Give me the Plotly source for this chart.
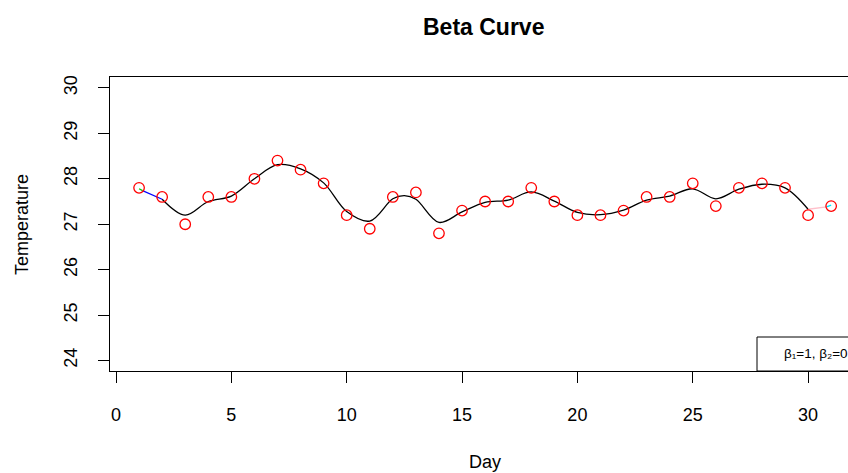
import plotly.graph_objects as go

# Observed data
days = list(range(1, 32))
temps = [27.8, 27.6, 27.0, 27.6, 27.6, 28.0, 28.4, 28.2, 27.9, 27.2,
         26.9, 27.6, 27.7, 26.8, 27.3, 27.5, 27.5, 27.8, 27.5, 27.2,
         27.2, 27.3, 27.6, 27.6, 27.9, 27.4, 27.8, 27.9, 27.8, 27.2, 27.4]

# Fitted curve
curve_days = [2, 3, 4, 5, 6, 7, 8, 9, 10, 11, 12, 12.5, 13, 14, 15, 16, 17,
              18, 19, 20, 21, 22, 23, 24, 25, 26, 27, 28, 29, 30]
curve_vals = [27.55, 27.2, 27.5, 27.62, 28.0, 28.31, 28.22, 27.91, 27.28, 27.07,
              27.56, 27.63, 27.55, 27.04, 27.27, 27.48, 27.53, 27.71, 27.51, 27.26,
              27.21, 27.31, 27.53, 27.62, 27.78, 27.56, 27.77, 27.88, 27.8, 27.33]

# End segments
green_x, green_y = [1, 1.15], [27.78, 27.74]
blue_x, blue_y = [1.15, 2], [27.74, 27.55]
pink_x, pink_y = [30, 30.8], [27.33, 27.38]
cyan_x, cyan_y = [30.8, 31], [27.38, 27.42]

xticks = [0, 5, 10, 15, 20, 25, 30]
yticks = [24, 25, 26, 27, 28, 29, 30]

FONT = "Liberation Sans, Arial, Helvetica, sans-serif"

fig = go.Figure()
fig.add_trace(go.Scatter(x=curve_days, y=curve_vals, mode="lines",
                         line=dict(color="black", width=1.3, shape="spline", smoothing=1.0),
                         hoverinfo="skip"))
fig.add_trace(go.Scatter(x=blue_x, y=blue_y, mode="lines", line=dict(color="blue", width=1.3)))
fig.add_trace(go.Scatter(x=green_x, y=green_y, mode="lines", line=dict(color="#00CC00", width=1.3)))
fig.add_trace(go.Scatter(x=pink_x, y=pink_y, mode="lines", line=dict(color="#FFC0CB", width=1.3)))
fig.add_trace(go.Scatter(x=cyan_x, y=cyan_y, mode="lines", line=dict(color="#00E5FF", width=1.3)))
fig.add_trace(go.Scatter(x=days, y=temps, mode="markers",
                         marker=dict(symbol="circle-open", size=10.5, color="red",
                                     line=dict(color="red", width=1.3))))

fig.update_layout(
    width=848, height=473,
    margin=dict(l=110, r=0, t=77, b=102),
    paper_bgcolor="white", plot_bgcolor="white",
    showlegend=False,
    font=dict(family=FONT, color="black"),
    xaxis=dict(range=[-0.26, 31.73], tickvals=xticks, ticktext=[str(v) for v in xticks],
               showgrid=False, zeroline=False, showline=True, linecolor="black", linewidth=1,
               mirror=True, ticks="outside", ticklen=11, tickwidth=1, tickcolor="black",
               tickfont=dict(size=18, family=FONT), ticklabelstandoff=16),
    yaxis=dict(range=[23.77, 30.24], tickvals=yticks, ticktext=[str(v) for v in yticks],
               showgrid=False, zeroline=False, showline=True, linecolor="black", linewidth=1,
               ticks="outside", ticklen=11, tickwidth=1, tickcolor="black", tickangle=-90,
               tickfont=dict(size=18, family=FONT), ticklabelstandoff=14),
    shapes=[dict(type="rect", xref="paper", yref="paper", x0=0.8767, x1=1.05, y0=0, y1=0.1156,
                 line=dict(color="black", width=1), fillcolor="white", layer="above")],
    annotations=[
        dict(text="<b>Beta Curve</b>", xref="paper", yref="paper", x=0.506, y=1.170,
             xanchor="center", yanchor="middle", showarrow=False, font=dict(size=23, family=FONT)),
        dict(text="Day", xref="paper", yref="paper", x=0.508, y=-0.3095,
             xanchor="center", yanchor="middle", showarrow=False, font=dict(size=18, family=FONT)),
        dict(text="Temperature", xref="paper", yref="paper", x=-0.1192, y=0.4966, textangle=-90,
             xanchor="center", yanchor="middle", showarrow=False, font=dict(size=18, family=FONT)),
        dict(text="β₁=1, β₂=0.5", xref="paper", yref="paper", x=0.911, y=0.0612,
             xanchor="left", yanchor="middle", showarrow=False, font=dict(size=13.5, family=FONT)),
    ],
)

fig.write_html("out.html")
